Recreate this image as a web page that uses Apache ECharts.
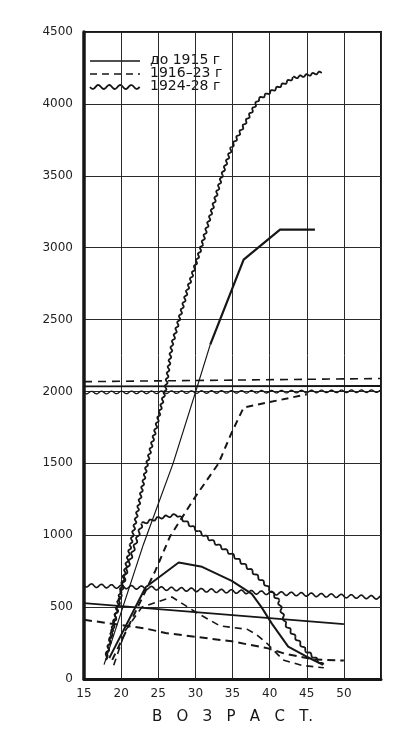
<!DOCTYPE html>
<html><head><meta charset="utf-8">
<script src="https://cdn.jsdelivr.net/npm/echarts/dist/echarts.min.js"></script>
<style>html,body{margin:0;padding:0;background:#fff}#c{width:406px;height:730px}</style>
</head><body><div id="c"></div>
<script>
// ---- data ----
const periods = ['до 1915 г', '1916–23 г', '1924-28 г'];
const xTicks = [15, 20, 25, 30, 35, 40, 45, 50];
const yTicks = [0, 500, 1000, 1500, 2000, 2500, 3000, 3500, 4000, 4500];

// rising (cumulative) curves
const cumSolid = [[17.7,100],[23,936],[27,1500],[30.2,2025],[32,2326],[36.5,2917],[41.4,3126],[46.1,3126]];
const cumDashed = [[18.8,133],[24.6,752],[26.6,993],[30,1268],[33.1,1498],[34.9,1715],[36.5,1888],[45,1980]];
const cumWavy = [[18,150],[21.3,936],[23.5,1498],[26,2025],[26.85,2324],[28.9,2702],[30.9,3023],[33.6,3505],[34.9,3700],[38.5,4032],[43.2,4181],[47,4220]];

// hump curves
const humpSolid = [[18.4,145],[23.3,638],[27.75,810],[30.9,780],[34.9,683],[37.6,592],[38.9,500],[40.3,385],[42.5,225],[44.8,160],[47.2,98]];
const humpDashed = [[19,95],[20.6,339],[22.8,500],[26.85,570],[30.4,454],[33.3,370],[37,345],[38.2,310],[39.6,250],[41.8,133],[44.3,95],[47.3,78]];
const humpWavy = [[17.9,133],[20.6,729],[22.8,1080],[25,1120],[27.5,1142],[30.4,1027],[34.9,867],[37.6,752],[39.4,660],[41.2,546],[42.1,385],[43.4,294],[44.8,202],[47.2,98]];

// slowly falling lines
const flatSolid = [[15,528],[50,381]];
const flatDashed = [[15,412],[23.3,351],[26,320],[34.9,262],[39.8,213],[42.1,175],[46,135],[50,128]];
const flatWavy = [[15,652],[55,566]];

// horizontal lines near 2000
const levelSolid = [[15,2035],[55,2038]];
const levelDashed = [[15,2068],[55,2090]];
const levelWavy = [[15,1992],[55,2002]];

// ---- drawing ----
const INK = '#161616';
function lineS(name, pts, w, type) {
  return { type: 'line', name, data: pts, showSymbol: false, symbol: 'none', silent: true,
    lineStyle: { color: INK, width: w, type: type || 'solid' }, animation: false, z: 3 };
}
function wavyS(name, pts, opt) {
  return {
    type: 'custom', name, coordinateSystem: 'cartesian2d', data: pts, encode: { x: 0, y: 1 },
    silent: true, animation: false, z: 3,
    renderItem: function (params, api) {
      const i = params.dataIndex;
      if (i === 0) return { type: 'group', children: [] };
      const pix = pts.map(p => api.coord(p));
      let s = 0;
      for (let k = 1; k < i; k++) s += Math.hypot(pix[k][0] - pix[k-1][0], pix[k][1] - pix[k-1][1]);
      const x0 = pix[i-1][0], y0 = pix[i-1][1], x1 = pix[i][0], y1 = pix[i][1];
      const dx = x1 - x0, dy = y1 - y0, len = Math.hypot(dx, dy) || 1;
      const nx = -dy / len, ny = dx / len;
      const n = Math.max(2, Math.ceil(len / 0.8));
      const out = [];
      for (let k = 0; k <= n; k++) {
        const t = k / n;
        const off = opt.amp * Math.sin(2 * Math.PI * (s + t * len) / opt.wl);
        out.push([x0 + dx * t + nx * off, y0 + dy * t + ny * off]);
      }
      return { type: 'polyline', shape: { points: out },
        style: { stroke: INK, lineWidth: opt.w, fill: null, lineJoin: 'round' } };
    }
  };
}

// legend drawn as graphic
function legendWave(x0, x1, y) {
  const pts = [];
  for (let x = x0; x <= x1; x += 0.8) pts.push([x, y + 2 * Math.sin(2 * Math.PI * (x - x0) / 11)]);
  return pts;
}
const legendFont = '14px "DejaVu Sans", sans-serif';
const graphic = [
  { type: 'line', shape: { x1: 90, y1: 61, x2: 140, y2: 61 }, style: { stroke: INK, lineWidth: 1.4 } },
  { type: 'line', shape: { x1: 90, y1: 74, x2: 140, y2: 74 }, style: { stroke: INK, lineWidth: 1.6, lineDash: [7, 5] } },
  { type: 'polyline', shape: { points: legendWave(90, 140, 87) }, style: { stroke: INK, lineWidth: 1.8, fill: null } },
  { type: 'text', left: 150, top: 53, style: { text: periods[0], font: legendFont, fill: INK } },
  { type: 'text', left: 150, top: 66, style: { text: periods[1], font: legendFont, fill: INK } },
  { type: 'text', left: 150, top: 79, style: { text: periods[2], font: legendFont, fill: INK } }
];

const chart = echarts.init(document.getElementById('c'), null, { renderer: 'canvas' });
chart.setOption({
  backgroundColor: '#fff',
  animation: false,
  grid: { left: 84, right: 25, top: 32, bottom: 45, show: true, borderColor: INK, borderWidth: 2, backgroundColor: 'transparent' },
  xAxis: {
    type: 'value', min: 15, max: 55, interval: 5,
    axisLine: { show: true, onZero: false, lineStyle: { color: INK, width: 3 } },
    axisTick: { show: false },
    splitLine: { show: true, lineStyle: { color: '#2a2a2a', width: 1 } },
    axisLabel: { color: '#222', fontSize: 12, margin: 9, fontFamily: '"DejaVu Sans", sans-serif',
      formatter: v => xTicks.includes(v) ? String(v) : '' },
    name: 'В   О   З   Р   А   С   Т.', nameLocation: 'middle', nameGap: 31,
    nameTextStyle: { fontSize: 15, color: INK, fontFamily: '"DejaVu Sans", sans-serif' }
  },
  yAxis: {
    type: 'value', min: 0, max: 4500, interval: 500,
    axisLine: { show: true, lineStyle: { color: INK, width: 3.5 } },
    axisTick: { show: false },
    splitLine: { show: true, lineStyle: { color: '#2a2a2a', width: 1 } },
    axisLabel: { color: '#222', fontSize: 12, margin: 11, fontFamily: '"DejaVu Sans", sans-serif',
      formatter: v => yTicks.includes(v) ? String(v) : '' }
  },
  graphic: graphic,
  series: [
    lineS(periods[0], cumSolid.slice(0, 5), 1.2),
    lineS(periods[0], cumSolid.slice(4), 2.2),
    lineS(periods[1], cumDashed, 2, [7, 5]),
    wavyS(periods[2], cumWavy, { amp: 1.1, wl: 6.5, w: 1.8 }),
    lineS(periods[0], humpSolid, 2),
    lineS(periods[1], humpDashed, 1.6, [7, 5]),
    wavyS(periods[2], humpWavy, { amp: 1.2, wl: 8, w: 1.8 }),
    lineS(periods[0], flatSolid, 1.8),
    lineS(periods[1], flatDashed, 2, [8, 5]),
    wavyS(periods[2], flatWavy, { amp: 1.7, wl: 10, w: 1.6 }),
    lineS(periods[0], levelSolid, 1.8),
    lineS(periods[1], levelDashed, 1.6, [8, 6]),
    wavyS(periods[2], levelWavy, { amp: 1.3, wl: 10, w: 1.3 })
  ]
});
</script>
</body></html>
